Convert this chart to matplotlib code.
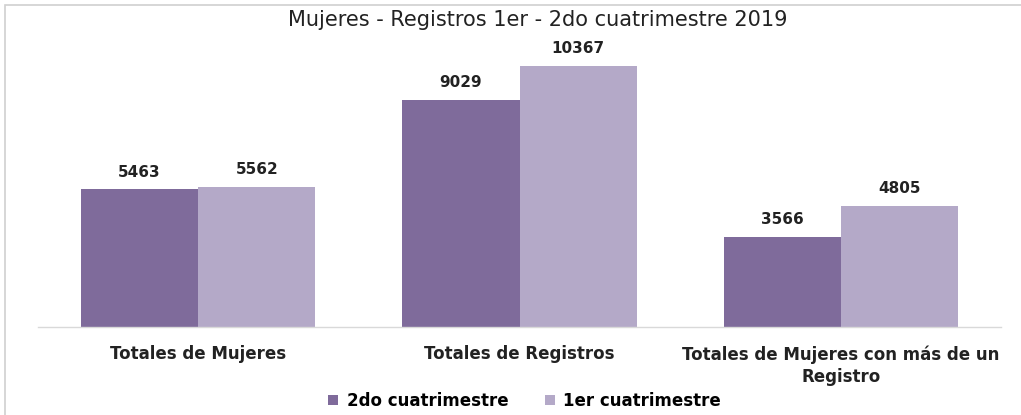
import matplotlib.pyplot as plt
import matplotlib.patches as mpatches
import numpy as np

categories = ["Totales de Mujeres", "Totales de Registros",
              "Totales de Mujeres con más de un\nRegistro"]
series_names = ["2do cuatrimestre", "1er cuatrimestre"]
values_2do = [5463, 9029, 3566]
values_1er = [5562, 10367, 4805]

DARK = "#7f6b9b"
LIGHT = "#b4a9c8"
TEXT = "#222222"

plt.rcParams["font.family"] = ["DejaVu Sans"]

fig = plt.figure(figsize=(10.21, 4.15), dpi=100)
ax = fig.add_axes([37.5 / 1021, 1 - 327 / 415, 964 / 1021, 289.6 / 415])

x = np.arange(len(categories))
w = 0.365
b1 = ax.bar(x - w / 2, values_2do, w, color=DARK, label=series_names[0])
b2 = ax.bar(x + w / 2, values_1er, w, color=LIGHT, label=series_names[1])
for bars in (b1, b2):
    ax.bar_label(bars, padding=7, fontsize=11, fontweight="bold", color=TEXT)

ax.set_xlim(-0.5, len(categories) - 0.5)
ax.set_ylim(0, 11500)
ax.set_yticks([])
ax.set_xticks(x)
ax.set_xticklabels(categories, fontsize=12, fontweight="semibold", color=TEXT,
                   linespacing=1.3)
ax.tick_params(axis="x", length=0, pad=13)
for side in ("top", "right", "left"):
    ax.spines[side].set_visible(False)
ax.spines["bottom"].set_color("#d9d9d9")
ax.spines["bottom"].set_linewidth(1.0)

fig.text(0.527, 1 - 20 / 415, "Mujeres - Registros 1er - 2do cuatrimestre 2019",
         ha="center", va="center", fontsize=15, color=TEXT)

fig.legend(handles=[b1, b2], loc="center", bbox_to_anchor=(0.514, 1 - 401 / 415),
           ncol=2, frameon=False, handlelength=0.6, handleheight=0.6,
           columnspacing=2.2, handletextpad=0.5,
           prop={"weight": "semibold", "size": 12})

# chart frame border
fig.patches.append(mpatches.Rectangle((5 / 1021, -0.1), 1.2, 1 - 5 / 415 + 0.1,
                                      transform=fig.transFigure, fill=False,
                                      edgecolor="#d0d0d0", linewidth=1.2))

fig.savefig("out.png", dpi=100, facecolor="white")
